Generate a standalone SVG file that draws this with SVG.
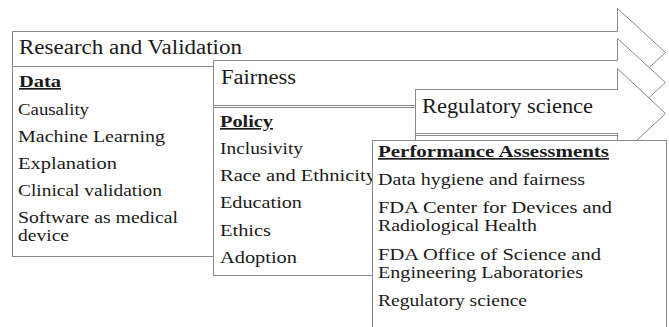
<svg xmlns="http://www.w3.org/2000/svg" width="669" height="327" viewBox="0 0 669 327">
<style>
.sh{fill:#fff;stroke:#8a8a8a;stroke-width:1}
.hd{font-family:"Liberation Serif","Times New Roman",serif;font-size:20px;fill:#1a1a1a}
.it{font-family:"Liberation Serif","Times New Roman",serif;font-size:16.5px;fill:#1a1a1a}
.bd{font-weight:bold;text-decoration:underline}
</style>
<rect width="669" height="327" fill="#fff"/>
<g id="research-validation">
<polygon class="sh" points="12.5,31.5 617.5,31.5 617.5,8.5 665.5,52.5 617.5,96.5 617.5,66.5 12.5,66.5"/>
<text class="hd" x="19" y="54" textLength="223" lengthAdjust="spacingAndGlyphs">Research and Validation</text>
</g>
<g id="data">
<rect class="sh" x="12.5" y="66.5" width="201" height="190"/>
<text class="it bd" x="19" y="87" textLength="42" lengthAdjust="spacingAndGlyphs">Data</text>
<text class="it" x="18" y="115" textLength="71" lengthAdjust="spacingAndGlyphs">Causality</text>
<text class="it" x="18" y="142" textLength="147" lengthAdjust="spacingAndGlyphs">Machine Learning</text>
<text class="it" x="18" y="169" textLength="99" lengthAdjust="spacingAndGlyphs">Explanation</text>
<text class="it" x="18" y="196" textLength="144" lengthAdjust="spacingAndGlyphs">Clinical validation</text>
<text class="it" x="18" y="223" textLength="160" lengthAdjust="spacingAndGlyphs">Software as medical</text>
<text class="it" x="18" y="241" textLength="51" lengthAdjust="spacingAndGlyphs">device</text>
</g>
<g id="fairness">
<polygon class="sh" points="213.5,60.5 617.5,60.5 617.5,38.5 665.5,82.5 617.5,126.5 617.5,105.5 213.5,105.5"/>
<text class="hd" x="221" y="84" textLength="75" lengthAdjust="spacingAndGlyphs">Fairness</text>
</g>
<g id="policy">
<rect class="sh" x="213.5" y="107.5" width="202" height="168"/>
<text class="it bd" x="220" y="127" textLength="53" lengthAdjust="spacingAndGlyphs">Policy</text>
<text class="it" x="220" y="154" textLength="83" lengthAdjust="spacingAndGlyphs">Inclusivity</text>
<text class="it" x="220" y="181" textLength="156" lengthAdjust="spacingAndGlyphs">Race and Ethnicity</text>
<text class="it" x="220" y="208" textLength="82" lengthAdjust="spacingAndGlyphs">Education</text>
<text class="it" x="220" y="236" textLength="51" lengthAdjust="spacingAndGlyphs">Ethics</text>
<text class="it" x="220" y="263" textLength="77" lengthAdjust="spacingAndGlyphs">Adoption</text>
</g>
<g id="regulatory-science">
<polygon class="sh" points="415.5,89.5 617.5,89.5 617.5,68.5 665.5,113.5 617.5,158.5 617.5,133.5 415.5,133.5"/>
<text class="hd" x="422" y="113" textLength="171" lengthAdjust="spacingAndGlyphs">Regulatory science</text>
</g>
<g id="regulatory-science-box">
<rect class="sh" x="415.5" y="135.5" width="202" height="150"/>
</g>
<g id="performance-assessments">
<rect class="sh" x="372.5" y="140.5" width="294" height="200"/>
<text class="it bd" x="378" y="157" textLength="231" lengthAdjust="spacingAndGlyphs">Performance Assessments</text>
<text class="it" x="378" y="185" textLength="207" lengthAdjust="spacingAndGlyphs">Data hygiene and fairness</text>
<text class="it" x="378" y="213" textLength="234" lengthAdjust="spacingAndGlyphs">FDA Center for Devices and</text>
<text class="it" x="378" y="231" textLength="159" lengthAdjust="spacingAndGlyphs">Radiological Health</text>
<text class="it" x="378" y="260" textLength="223" lengthAdjust="spacingAndGlyphs">FDA Office of Science and</text>
<text class="it" x="378" y="278" textLength="205" lengthAdjust="spacingAndGlyphs">Engineering Laboratories</text>
<text class="it" x="378" y="306" textLength="149" lengthAdjust="spacingAndGlyphs">Regulatory science</text>
</g>
<g id="connectors"/>
</svg>
